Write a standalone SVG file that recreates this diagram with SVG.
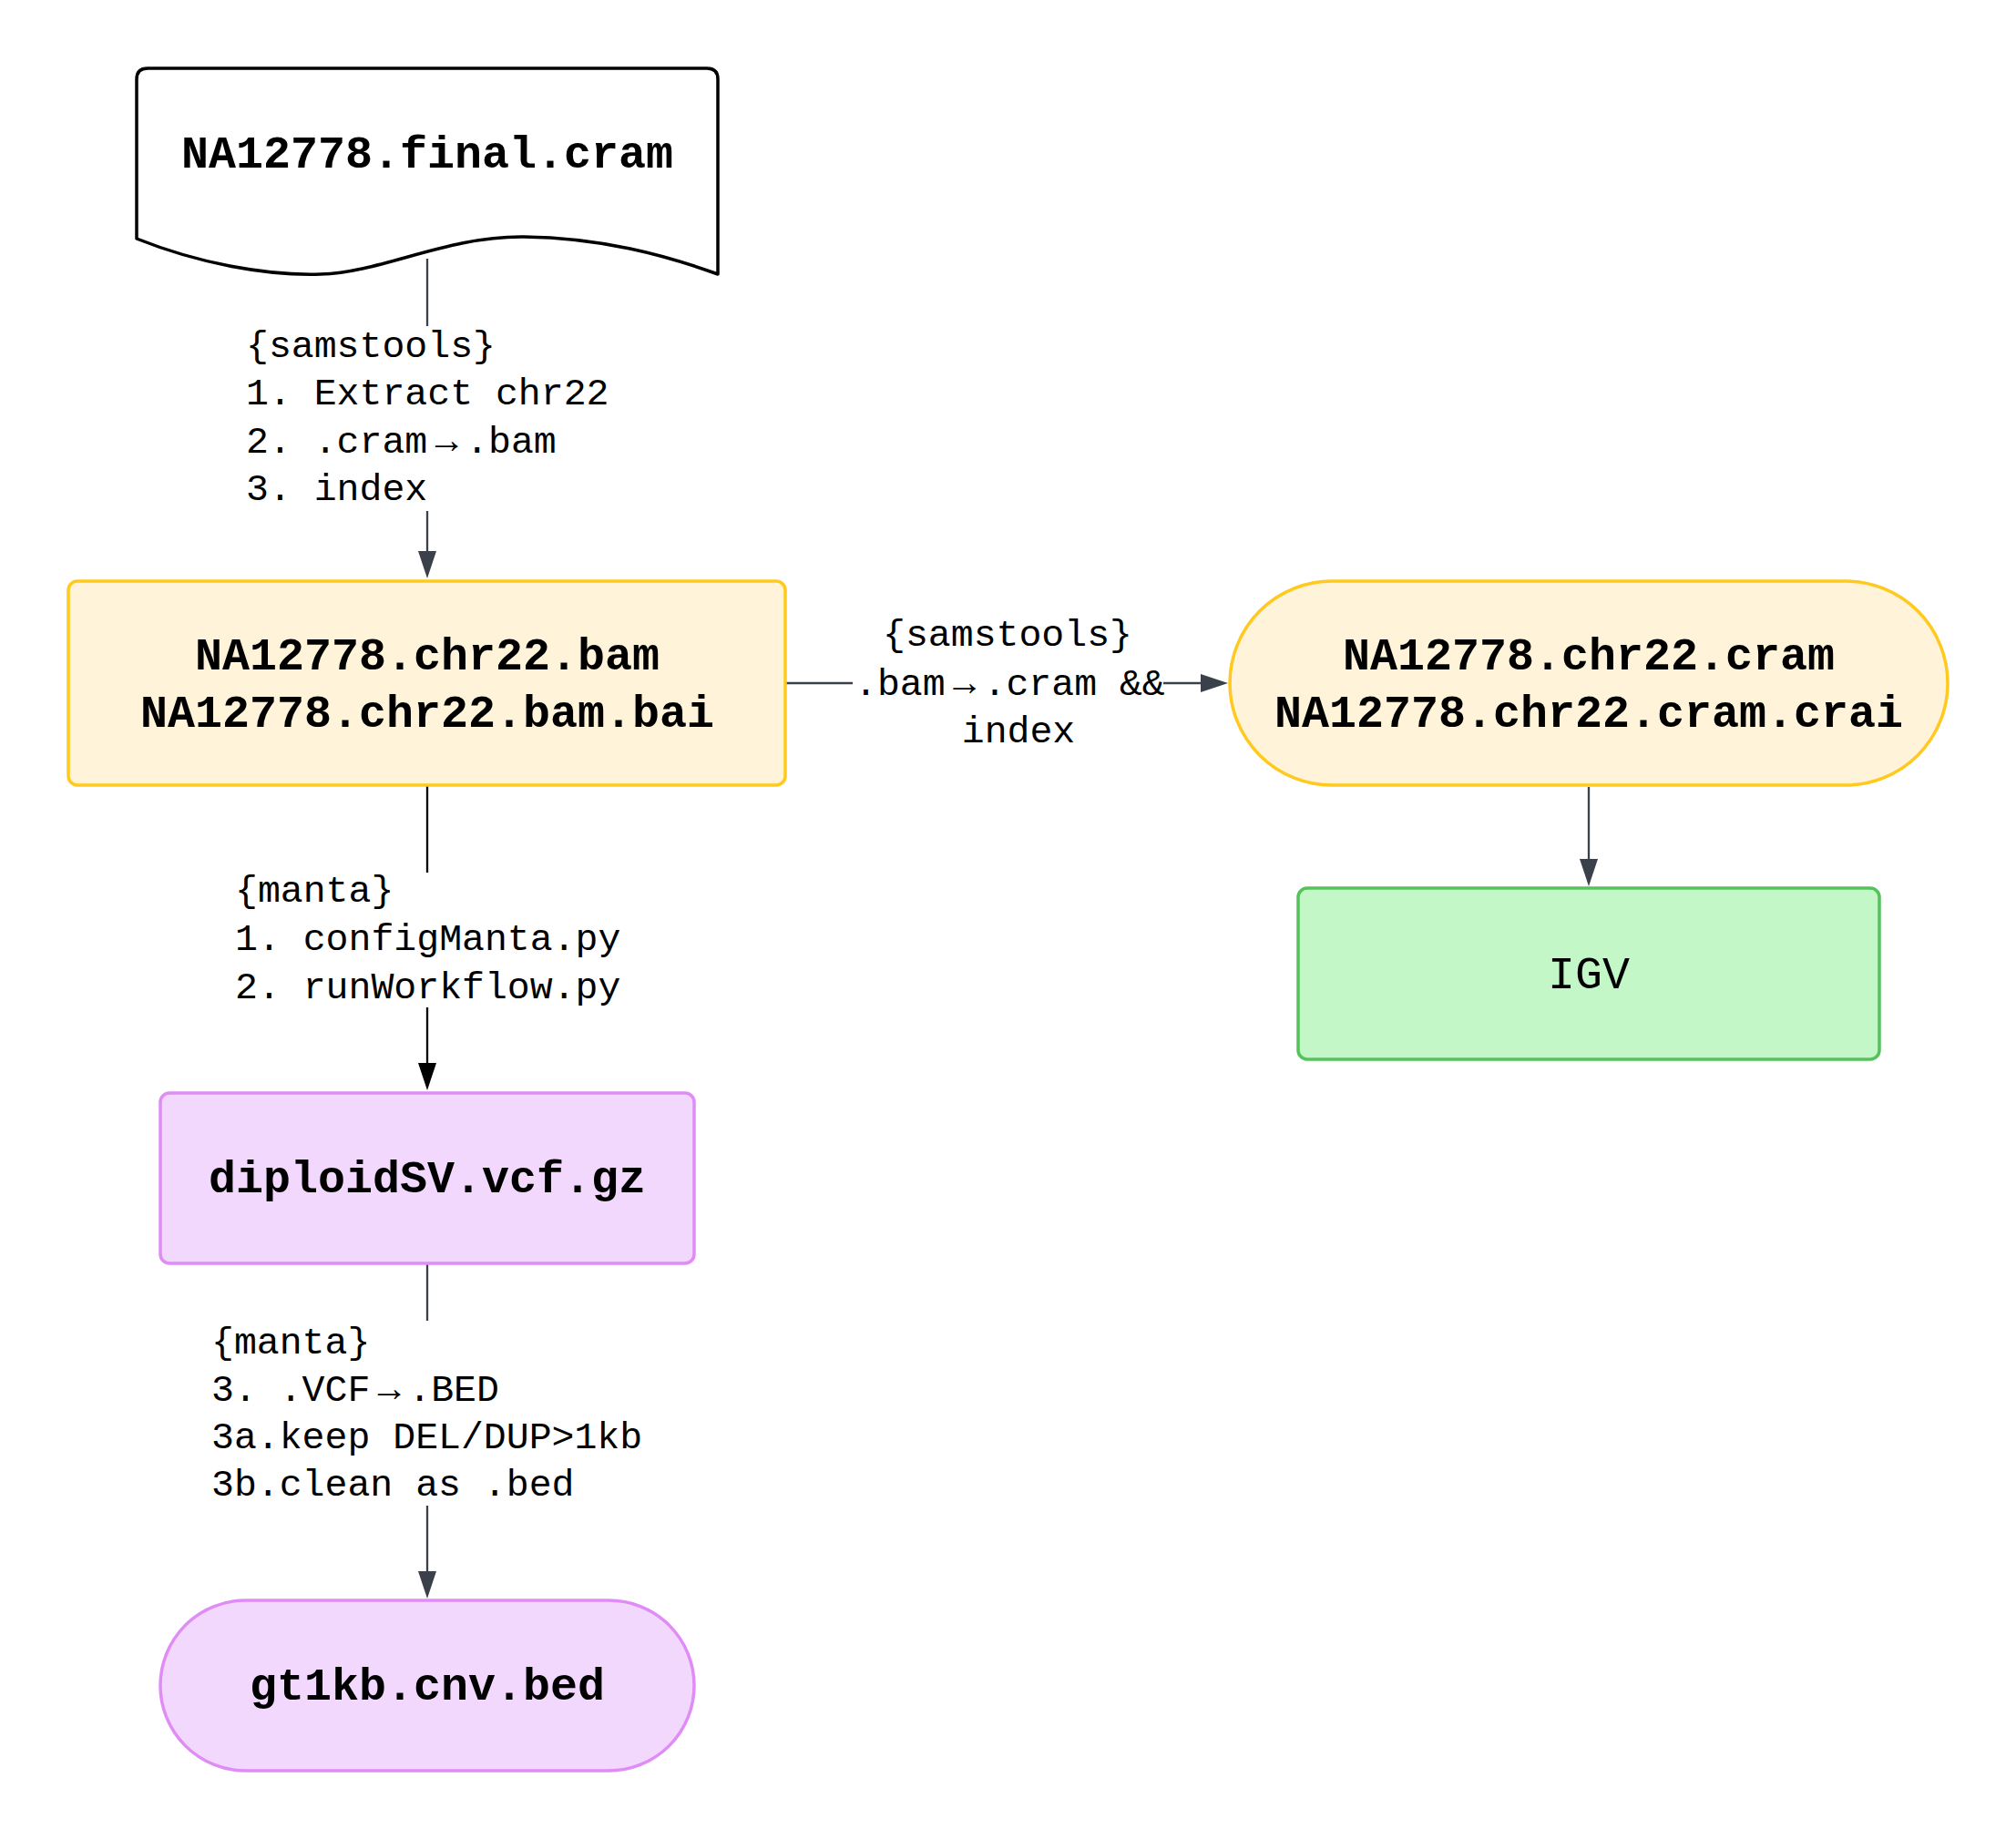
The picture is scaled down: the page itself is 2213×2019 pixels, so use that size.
<svg xmlns="http://www.w3.org/2000/svg" width="2213" height="2019" viewBox="0 0 2213 2019">
<style>
.node-text{font-family:"Liberation Mono","DejaVu Sans Mono",monospace;font-size:50px;font-weight:bold;fill:#000;text-anchor:middle}
.node-plain{font-family:"Liberation Mono","DejaVu Sans Mono",monospace;font-size:50px;fill:#000;text-anchor:middle}
.lbl{font-family:"Liberation Mono","DejaVu Sans Mono",monospace;font-size:41.5px;fill:#000}
.yellow{fill:#FFF3D9;stroke:#FFC91E;stroke-width:3.5}
.purple{fill:#F3D8FD;stroke:#E08CF7;stroke-width:3.5}
.green{fill:#C3F7C8;stroke:#55C35B;stroke-width:3.5}
.conn{fill:none;stroke:#3A414A;stroke-width:2.3}
.conn-dark{fill:none;stroke:#000;stroke-width:2.3}
</style>
<defs>
<marker id="arr" markerUnits="userSpaceOnUse" markerWidth="30" markerHeight="20" refX="0" refY="10" orient="auto" viewBox="0 0 30 20">
<path d="M0,0 L30,10 L0,20 Z" fill="#3A414A"/>
</marker>
<marker id="arrDark" markerUnits="userSpaceOnUse" markerWidth="30" markerHeight="20" refX="0" refY="10" orient="auto" viewBox="0 0 30 20">
<path d="M0,0 L30,10 L0,20 Z" fill="#000"/>
</marker>
</defs>
<rect width="2213" height="2019" fill="#FFFFFF"/>

<g id="connectors">
<path class="conn" d="M469,284 V358"/>
<path class="conn" d="M469,561 V605" marker-end="url(#arr)"/>
<path class="conn-dark" d="M469,863 V958"/>
<path class="conn-dark" d="M469,1106 V1167" marker-end="url(#arrDark)"/>
<path class="conn" d="M863,750 H936"/>
<path class="conn" d="M1277,750 H1318" marker-end="url(#arr)"/>
<path class="conn" d="M1744,864 V943" marker-end="url(#arr)"/>
<path class="conn" d="M469,1388 V1450"/>
<path class="conn" d="M469,1653 V1725" marker-end="url(#arr)"/>
</g>

<g id="labels">
<text class="lbl"><tspan x="270" y="392">{samstools}</tspan><tspan x="270" y="444">1. Extract chr22</tspan><tspan x="270" y="497">2. .cram<tspan dx="8.5">→</tspan><tspan dx="8.5">.bam</tspan></tspan><tspan x="270" y="549">3. index</tspan></text>
<text class="lbl"><tspan x="258" y="990">{manta}</tspan><tspan x="258" y="1043">1. configManta.py</tspan><tspan x="258" y="1096">2. runWorkflow.py</tspan></text>
<text class="lbl" text-anchor="middle"><tspan x="1106" y="709">{samstools}</tspan></text>
<text class="lbl"><tspan x="938" y="763">.bam<tspan dx="8.5">→</tspan><tspan dx="8.5">.cram &amp;&amp;</tspan></tspan></text>
<text class="lbl" text-anchor="middle"><tspan x="1118" y="815">index</tspan></text>
<text class="lbl"><tspan x="232" y="1486">{manta}</tspan><tspan x="232" y="1538">3. .VCF<tspan dx="8.5">→</tspan><tspan dx="8.5">.BED</tspan></tspan><tspan x="232" y="1590">3a.keep DEL/DUP&gt;1kb</tspan><tspan x="232" y="1642">3b.clean as .bed</tspan></text>
</g>

<g id="node-final-cram">
<path d="M150,262 V87 Q150,75 162,75 H776 Q788,75 788,87 V301 C730,280 660,261 575,260 C490,259 420,299 352,301 C290,303 215,288 150,262 Z" fill="#FFFFFF" stroke="#000" stroke-width="3.5" stroke-linejoin="round"/>
<text class="node-text" x="469" y="184">NA12778.final.cram</text>
</g>

<g id="node-chr22-bam">
<rect class="yellow" x="75" y="638" width="787" height="224" rx="10"/>
<text class="node-text" x="469" y="735">NA12778.chr22.bam</text>
<text class="node-text" x="469" y="798">NA12778.chr22.bam.bai</text>
</g>

<g id="node-chr22-cram">
<rect class="yellow" x="1350" y="638" width="788" height="224" rx="112"/>
<text class="node-text" x="1744" y="735">NA12778.chr22.cram</text>
<text class="node-text" x="1744" y="798">NA12778.chr22.cram.crai</text>
</g>

<g id="node-igv">
<rect class="green" x="1425" y="975" width="638" height="188" rx="10"/>
<text class="node-plain" x="1744" y="1085">IGV</text>
</g>

<g id="node-diploidsv">
<rect class="purple" x="176" y="1200" width="586" height="187" rx="10"/>
<text class="node-text" x="469" y="1309">diploidSV.vcf.gz</text>
</g>

<g id="node-gt1kb">
<rect class="purple" x="176" y="1757" width="586" height="187" rx="93.5"/>
<text class="node-text" x="469" y="1866">gt1kb.cnv.bed</text>
</g>
</svg>
